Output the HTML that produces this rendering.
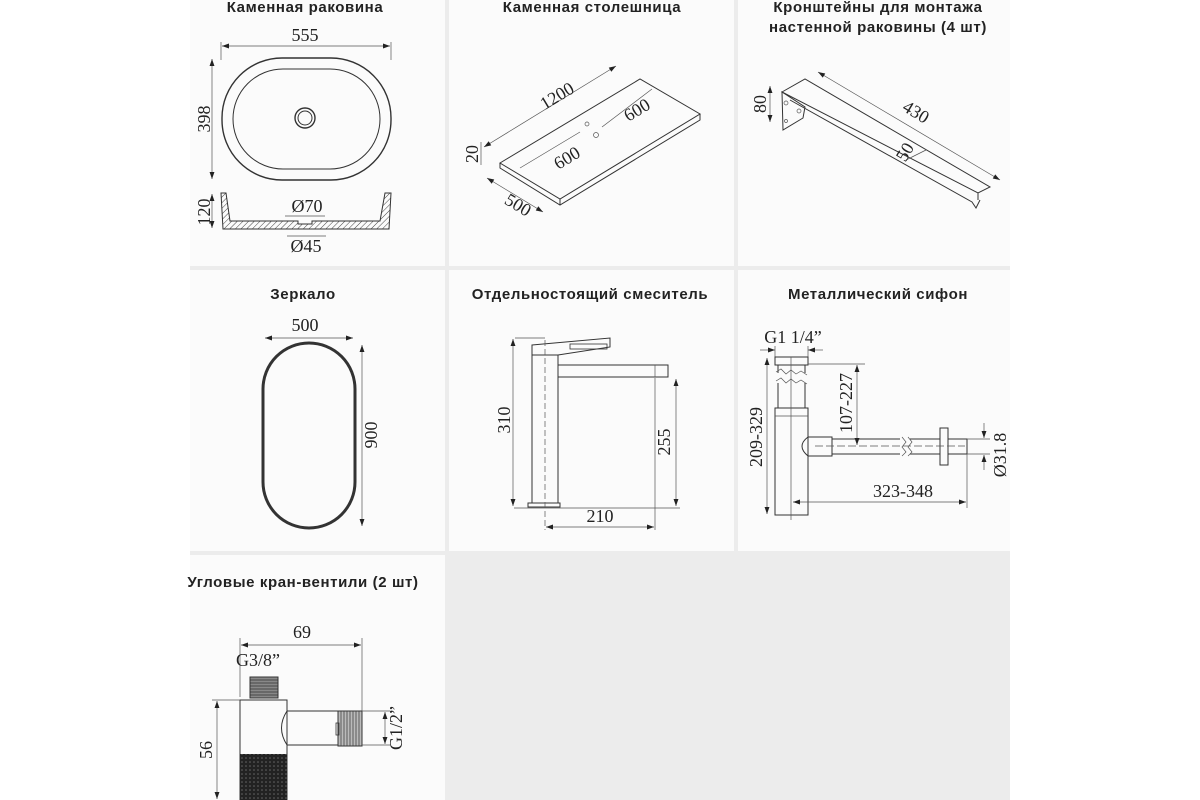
<!DOCTYPE html>
<html><head><meta charset="utf-8"><style>
html,body{margin:0;padding:0;background:#fff;}
svg{display:block}
.t{font-family:"Liberation Sans",sans-serif;font-weight:bold;font-size:15px;letter-spacing:0.6px;fill:#222;text-anchor:middle}
.d{font-family:"Liberation Serif",serif;font-size:18px;fill:#222;text-anchor:middle}
.ln{stroke:#333;stroke-width:1.4;fill:none}
.th{stroke:#555;stroke-width:0.7;fill:none}
</style></head><body>
<svg width="1200" height="800" viewBox="0 0 1200 800" xmlns="http://www.w3.org/2000/svg">
<defs>
<marker id="a" viewBox="0 0 10 10" refX="10" refY="5" markerUnits="userSpaceOnUse" markerWidth="10" markerHeight="7" orient="auto-start-reverse"><path d="M0,1.5 L10,5 L0,8.5z" fill="#222"/></marker>
<pattern id="knurl" width="4" height="4" patternUnits="userSpaceOnUse"><rect width="4" height="4" fill="#222"/><circle cx="2" cy="2" r="0.8" fill="#666"/></pattern>
<pattern id="hatch" width="4" height="4" patternUnits="userSpaceOnUse" patternTransform="rotate(45)"><line x1="0" y1="0" x2="0" y2="4" stroke="#444" stroke-width="1"/></pattern>
</defs>
<rect x="190" y="0" width="820" height="800" fill="#fbfbfb"/>
<rect x="445" y="0" width="4" height="555" fill="#ececec"/>
<rect x="734" y="0" width="4" height="555" fill="#ececec"/>
<rect x="190" y="266" width="820" height="4" fill="#ececec"/>
<rect x="190" y="551" width="820" height="4" fill="#ececec"/>
<rect x="445" y="551" width="565" height="249" fill="#ececec"/>

<!-- Panel 1 -->
<text class="t" x="305" y="12">Каменная раковина</text>
<text class="d" x="305" y="41">555</text>
<line class="th" x1="222" y1="46" x2="390" y2="46" marker-start="url(#a)" marker-end="url(#a)"/>
<line class="th" x1="221" y1="42" x2="221" y2="60"/><line class="th" x1="391" y1="42" x2="391" y2="60"/>
<line class="th" x1="212" y1="59" x2="212" y2="179" marker-start="url(#a)" marker-end="url(#a)"/>
<text class="d" transform="translate(210,119) rotate(-90)">398</text>
<rect class="ln" x="222" y="58" width="169" height="122" rx="60" ry="60"/>
<rect class="ln" x="233" y="69" width="147" height="100" rx="50" ry="50" style="stroke-width:1"/>
<circle class="ln" cx="305" cy="118" r="10"/><circle class="ln" cx="305" cy="118" r="7" style="stroke-width:1"/>
<path d="M221,193 L226,193 L230,221 L298,221 L298,224 L312,224 L312,221 L380,221 L385,193 L391,193 L389,229 L223,229 Z" fill="url(#hatch)" stroke="#333" stroke-width="1"/>
<line class="th" x1="212" y1="194" x2="212" y2="228" marker-start="url(#a)" marker-end="url(#a)"/>
<text class="d" transform="translate(210,212) rotate(-90)">120</text>
<text class="d" x="307" y="212">Ø70</text>
<line class="th" x1="285" y1="216" x2="325" y2="216"/>
<text class="d" x="306" y="252">Ø45</text>
<line class="th" x1="287" y1="236" x2="326" y2="236"/>

<!-- Panel 2 -->
<text class="t" x="592" y="12">Каменная столешница</text>
<polygon class="ln" points="500,163 640,79 700,114 560,199" style="stroke-width:1"/>
<polyline class="ln" points="500,163 500,168 560,205 700,120 700,114" style="stroke-width:1"/>
<line class="ln" x1="560" y1="199" x2="560" y2="205" style="stroke-width:1"/>
<line class="th" x1="484" y1="147" x2="616" y2="66" marker-start="url(#a)" marker-end="url(#a)"/>
<text class="d" transform="translate(560,101) rotate(-31)">1200</text>
<line class="th" x1="520" y1="168" x2="580" y2="132"/>
<line class="th" x1="602" y1="127" x2="652" y2="89"/>
<text class="d" transform="translate(570,163) rotate(-31)">600</text>
<text class="d" transform="translate(640,115) rotate(-31)">600</text>
<circle class="th" cx="587" cy="124" r="2"/><circle class="th" cx="596" cy="135" r="2.5"/>
<line class="th" x1="481" y1="142" x2="481" y2="165"/>
<text class="d" transform="translate(478,154) rotate(-90)">20</text>
<line class="th" x1="487" y1="178" x2="543" y2="212" marker-start="url(#a)" marker-end="url(#a)"/>
<text class="d" transform="translate(515,210) rotate(31)">500</text>

<!-- Panel 3 -->
<text class="t" x="878" y="12">Кронштейны для монтажа</text>
<text class="t" x="878" y="32">настенной раковины (4 шт)</text>
<polygon class="ln" points="782,92 805,79 990,187 978,193" style="stroke-width:1"/>
<polygon class="ln" points="782,92 783,130 803,118 805,107 782,92" style="stroke-width:1"/>
<polyline class="ln" points="790,100 972,202 976,208 980,200" style="stroke-width:1"/>
<line class="ln" x1="978" y1="193" x2="978" y2="200" style="stroke-width:1"/>
<circle class="th" cx="786" cy="103" r="2"/><circle class="th" cx="799" cy="111" r="2"/><circle class="th" cx="786" cy="121" r="1.5"/>
<line class="th" x1="818" y1="72" x2="1000" y2="180" marker-start="url(#a)" marker-end="url(#a)"/>
<text class="d" transform="translate(913,117) rotate(31)">430</text>
<line class="th" x1="906" y1="160" x2="926" y2="150"/>
<text class="d" transform="translate(910,155) rotate(-59)">50</text>
<line class="th" x1="770" y1="86" x2="770" y2="122" marker-start="url(#a)" marker-end="url(#a)"/>
<text class="d" transform="translate(766,104) rotate(-90)">80</text>

<!-- Panel 4 -->
<text class="t" x="303" y="299">Зеркало</text>
<text class="d" x="305" y="331">500</text>
<line class="th" x1="265" y1="338" x2="353" y2="338" marker-start="url(#a)" marker-end="url(#a)"/>
<rect x="263" y="343" width="92" height="185" rx="46" ry="46" fill="none" stroke="#333" stroke-width="3"/>
<line class="th" x1="362" y1="345" x2="362" y2="526" marker-start="url(#a)" marker-end="url(#a)"/>
<text class="d" transform="translate(377,435) rotate(-90)">900</text>

<!-- Panel 5 -->
<text class="t" x="590" y="299">Отдельностоящий смеситель</text>
<polygon class="ln" points="532,345 610,338 610,347 558,355 532,355" style="stroke-width:1"/>
<rect class="ln" x="570" y="344" width="37" height="5" style="stroke-width:0.8"/>
<rect class="ln" x="532" y="355" width="26" height="148" style="stroke-width:1"/>
<rect class="ln" x="558" y="365" width="110" height="12" style="stroke-width:1"/>
<line class="th" x1="655" y1="365" x2="655" y2="377"/>
<rect class="ln" x="528" y="503" width="32" height="4" style="stroke-width:1"/>
<line class="th" x1="545" y1="340" x2="545" y2="530" stroke-dasharray="6,3"/>
<line class="th" x1="515" y1="338" x2="545" y2="338"/>
<line class="th" x1="513" y1="339" x2="513" y2="506" marker-start="url(#a)" marker-end="url(#a)"/>
<text class="d" transform="translate(510,420) rotate(-90)">310</text>
<line class="th" x1="514" y1="508" x2="680" y2="508"/>
<line class="th" x1="676" y1="379" x2="676" y2="506" marker-start="url(#a)" marker-end="url(#a)"/>
<text class="d" transform="translate(670,442) rotate(-90)">255</text>
<line class="th" x1="655" y1="378" x2="655" y2="530"/>
<line class="th" x1="546" y1="527" x2="654" y2="527" marker-start="url(#a)" marker-end="url(#a)"/>
<text class="d" x="600" y="522">210</text>

<!-- Panel 6 -->
<text class="t" x="878" y="299">Металлический сифон</text>
<text class="d" x="793" y="343">G1 1/4”</text>
<line class="th" x1="760" y1="350" x2="775" y2="350" marker-end="url(#a)"/>
<line class="th" x1="823" y1="350" x2="808" y2="350" marker-end="url(#a)"/>
<line class="th" x1="775" y1="346" x2="775" y2="357"/><line class="th" x1="808" y1="346" x2="808" y2="357"/>
<rect class="ln" x="775" y="357" width="33" height="8" style="stroke-width:1"/>
<rect class="ln" x="778" y="365" width="27" height="43" style="stroke-width:1"/>
<rect x="774" y="373" width="36" height="10" fill="#fbfbfb"/>
<path class="th" d="M776,372 l5,-3 l5,5 l5,-4 l5,4 l5,-3 l6,4 M776,381 l5,-3 l5,5 l5,-4 l5,4 l5,-3 l6,4"/>
<rect class="ln" x="775" y="408" width="33" height="107" style="stroke-width:1"/>
<line class="th" x1="775" y1="416" x2="808" y2="416"/>
<line class="th" x1="791" y1="357" x2="791" y2="520"/>
<rect class="ln" x="808" y="437" width="24" height="19" style="stroke-width:1"/>
<path class="ln" d="M808,437 Q796,446 808,456" style="stroke-width:1"/>
<rect class="ln" x="832" y="439" width="108" height="15" style="stroke-width:1"/>
<rect x="900" y="436" width="10" height="22" fill="#fbfbfb"/>
<path class="th" d="M902,437 l4,5 l-4,5 l4,5 l-4,4 M908,437 l4,5 l-4,5 l4,5 l-4,4"/>
<rect class="ln" x="940" y="428" width="8" height="37" style="stroke-width:1"/>
<rect class="ln" x="948" y="439" width="19" height="15" style="stroke-width:1"/>
<line class="th" x1="815" y1="446" x2="965" y2="446" stroke-dasharray="8,3"/>
<line class="th" x1="808" y1="364" x2="865" y2="364"/>
<line class="th" x1="857" y1="365" x2="857" y2="445" marker-start="url(#a)" marker-end="url(#a)"/>
<text class="d" transform="translate(852,403) rotate(-90)">107-227</text>
<line class="th" x1="767" y1="358" x2="767" y2="514" marker-start="url(#a)" marker-end="url(#a)"/>
<text class="d" transform="translate(762,437) rotate(-90)">209-329</text>
<line class="th" x1="793" y1="502" x2="966" y2="502" marker-start="url(#a)" marker-end="url(#a)"/>
<line class="th" x1="967" y1="454" x2="967" y2="508"/>
<text class="d" x="903" y="497">323-348</text>
<line class="th" x1="967" y1="439" x2="990" y2="439"/><line class="th" x1="967" y1="454" x2="990" y2="454"/>
<line class="th" x1="984" y1="423" x2="984" y2="438" marker-end="url(#a)"/>
<line class="th" x1="984" y1="470" x2="984" y2="455" marker-end="url(#a)"/>
<text class="d" transform="translate(1006,455) rotate(-90)">Ø31.8</text>

<!-- Panel 7 -->
<text class="t" x="303" y="587">Угловые кран-вентили (2 шт)</text>
<line class="th" x1="240" y1="638" x2="240" y2="697"/>
<line class="th" x1="362" y1="638" x2="362" y2="712"/>
<line class="th" x1="241" y1="645" x2="361" y2="645" marker-start="url(#a)" marker-end="url(#a)"/>
<text class="d" x="302" y="638">69</text>
<text class="d" x="258" y="666">G3/8”</text>
<rect x="250" y="677" width="28" height="21" fill="#888" stroke="#333" stroke-width="1"/>
<path d="M250,680h28M250,683h28M250,686h28M250,689h28M250,692h28M250,695h28" stroke="#333" stroke-width="0.8"/>
<rect class="ln" x="240" y="700" width="47" height="100" style="stroke-width:1"/>
<rect x="240" y="754" width="47" height="46" fill="url(#knurl)"/>
<path class="ln" d="M287,711 L338,711 L338,745 L287,745 Q276,728 287,711" style="stroke-width:1"/>
<rect x="338" y="711" width="24" height="35" fill="#bbb" stroke="#333" stroke-width="1"/>
<path d="M341,711v35M344,711v35M347,711v35M350,711v35M353,711v35M356,711v35M359,711v35" stroke="#444" stroke-width="0.8"/>
<rect class="ln" x="336" y="723" width="3" height="12" style="stroke-width:0.8"/>
<line class="th" x1="362" y1="711" x2="390" y2="711"/><line class="th" x1="362" y1="745" x2="390" y2="745"/>
<line class="th" x1="385" y1="712" x2="385" y2="744" marker-start="url(#a)" marker-end="url(#a)"/>
<text class="d" transform="translate(402,728) rotate(-90)">G1/2”</text>
<line class="th" x1="212" y1="700" x2="240" y2="700"/>
<line class="th" x1="217" y1="701" x2="217" y2="799" marker-start="url(#a)" marker-end="url(#a)"/>
<text class="d" transform="translate(212,750) rotate(-90)">56</text>
</svg>
</body></html>
